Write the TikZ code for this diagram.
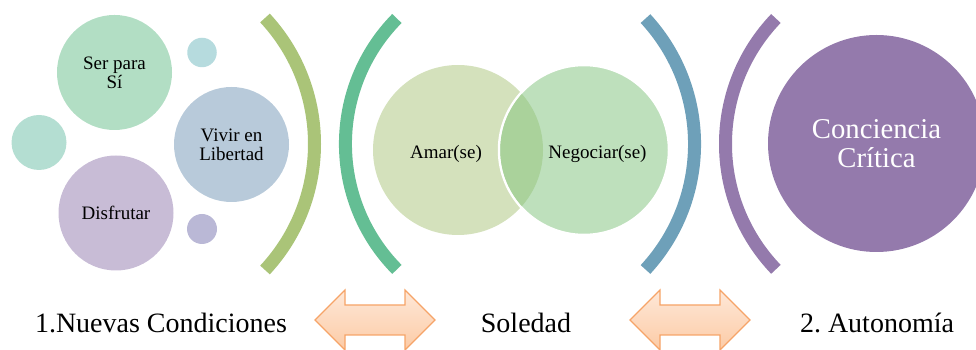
\documentclass[tikz,border=0pt]{standalone}
\usepackage{fontspec}
\setmainfont{Liberation Serif}
\frenchspacing
\begin{document}
\begin{tikzpicture}[x=1pt,y=1pt,
  bub/.style={circle, inner sep=0pt, align=center, font=\fontsize{19}{19}\selectfont},
  brk/.style={line width=13pt},
  lbl/.style={anchor=base, font=\fontsize{28}{28}\selectfont},
  venn/.style={anchor=base, font=\fontsize{19}{19}\selectfont},
  darrow/.style={draw=arrline, line width=1.2pt, top color=arrtop, bottom color=arrbot}
]
\definecolor{cSer}{HTML}{B2DEC4}
\definecolor{cSmallTop}{HTML}{B6DBDE}
\definecolor{cLeftMed}{HTML}{B4DED2}
\definecolor{cVivir}{HTML}{B8CADA}
\definecolor{cDisf}{HTML}{C8BCD6}
\definecolor{cSmallBot}{HTML}{BAB8D6}
\definecolor{cBrkA}{HTML}{AAC478}
\definecolor{cBrkB}{HTML}{64BE94}
\definecolor{cAmar}{HTML}{D4E1BC}
\definecolor{cNego}{HTML}{BEE0BC}
\definecolor{cOver}{HTML}{AAD29B}
\definecolor{cBrkC}{HTML}{6EA0B9}
\definecolor{cPurple}{HTML}{947AAC}
\definecolor{arrline}{HTML}{F6A468}
\definecolor{arrtop}{HTML}{FEE8D8}
\definecolor{arrbot}{HTML}{FCCBA6}

\useasboundingbox (0,0) rectangle (976,350);
\clip (0,0) rectangle (976,350);

% left group
\node[bub, fill=cSer, minimum size=115] (ser) at (114.5,277.5) {Ser para\\S\'i};
\node[bub, fill=cSmallTop, minimum size=29.5] (st) at (202,297.5) {};
\node[bub, fill=cLeftMed, minimum size=55] (lm) at (39,207.5) {};
\node[bub, fill=cVivir, minimum size=115] (viv) at (231.5,205.5) {Vivir en\\Libertad};
\node[bub, fill=cDisf, minimum size=115] (dis) at (116,137) {Disfrutar};
\node[bub, fill=cSmallBot, minimum size=30] (sb) at (202,121) {};

% brackets
\draw[brk, cBrkA] (265,80) arc[start angle=-42.9, end angle=42.9, radius=185.1pt];
\draw[brk, cBrkB] (396.9,331.5) arc[start angle=135.4, end angle=224.6, radius=178.7pt];
\draw[brk, cBrkC] (645.5,80.5) arc[start angle=-42.7, end angle=42.7, radius=185pt];
\draw[brk, cPurple] (775.9,331.5) arc[start angle=136.2, end angle=223.8, radius=181.2pt];

% venn
\node[bub, fill=cAmar, minimum size=170] (amar) at (458,200) {};
\node[bub, fill=cNego, draw=white, line width=2.5pt, minimum size=170] (nego) at (584,200) {};
\begin{scope}
  \clip (458,200) circle (85);
  \fill[cOver] (584,200) circle (83.75);
\end{scope}
\node[venn] (amarL) at (446,191.7) {Amar(se)};
\node[venn] (negoL) at (597.5,191.7) {Negociar(se)};

% big circle
\node[circle, inner sep=0pt, fill=cPurple, minimum size=217, text=white, align=center,
      font=\fontsize{28.7}{29}\selectfont] (cc) at (876.5,206.5) {Conciencia\\Cr\'itica};

% double arrows
\draw[darrow] (315,30) -- (345,60) -- (345,45) -- (405,45) -- (405,60) -- (435,30)
  -- (405,0) -- (405,15) -- (345,15) -- (345,0) -- cycle;
\draw[darrow] (630,30) -- (660,60) -- (660,45) -- (720,45) -- (720,60) -- (750,30)
  -- (720,0) -- (720,15) -- (660,15) -- (660,0) -- cycle;

% bottom labels
\node[lbl] (l1) at (161,17) {1.Nuevas Condiciones};
\node[lbl] (l2) at (526,17) {Soledad};
\node[lbl] (l3) at (877,17) {2. Autonom\'ia};
\end{tikzpicture}
\end{document}
